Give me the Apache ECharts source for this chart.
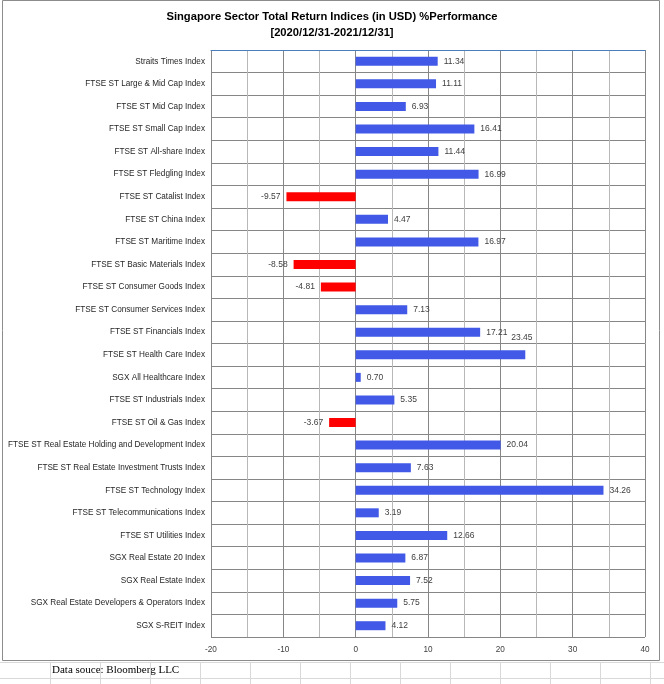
<!DOCTYPE html>
<html>
<head>
<meta charset="utf-8">
<script src="https://cdn.jsdelivr.net/npm/echarts@6/dist/echarts.min.js"></script>
<style>
html,body{margin:0;padding:0;background:#fff;}
#chart{width:664px;height:684px;}
</style>
</head>
<body>
<div id="chart"></div>
<script>
var categories = [
  "Straits Times Index",
  "FTSE ST Large & Mid Cap Index",
  "FTSE ST Mid Cap Index",
  "FTSE ST Small Cap Index",
  "FTSE ST All-share Index",
  "FTSE ST Fledgling Index",
  "FTSE ST Catalist Index",
  "FTSE ST China Index",
  "FTSE ST Maritime Index",
  "FTSE ST Basic Materials Index",
  "FTSE ST Consumer Goods Index",
  "FTSE ST Consumer Services Index",
  "FTSE ST Financials Index",
  "FTSE ST Health Care Index",
  "SGX All Healthcare Index",
  "FTSE ST Industrials Index",
  "FTSE ST Oil & Gas Index",
  "FTSE ST Real Estate Holding and Development Index",
  "FTSE ST Real Estate Investment Trusts Index",
  "FTSE ST Technology Index",
  "FTSE ST Telecommunications Index",
  "FTSE ST Utilities Index",
  "SGX Real Estate 20 Index",
  "SGX Real Estate Index",
  "SGX Real Estate Developers & Operators Index",
  "SGX S-REIT Index"
];
var performance = [
  11.34, 11.11, 6.93, 16.41, 11.44, 16.99, -9.57, 4.47, 16.97, -8.58,
  -4.81, 7.13, 17.21, 23.45, 0.70, 5.35, -3.67, 20.04, 7.63, 34.26,
  3.19, 12.66, 6.87, 7.52, 5.75, 4.12
];
var xTicks = { min: -20, max: 40, interval: 10 };

var BLUE = '#4159E6', RED = '#FF0000';
var LABEL_FONT = 'Liberation Sans';

var barData = performance.map(function (v, i) {
  var item = {
    value: v,
    itemStyle: { color: v < 0 ? RED : BLUE },
    label: { position: v < 0 ? 'left' : 'right' }
  };
  if (categories[i] === 'FTSE ST Health Care Index') {
    item.label.offset = [-20, -17];
  }
  return item;
});

var sheetLines = [];
sheetLines.push({ type: 'line', shape: { x1: 0, y1: 662.5, x2: 664, y2: 662.5 }, style: { stroke: '#d9d9d9', lineWidth: 1 }, z: 0 });
sheetLines.push({ type: 'line', shape: { x1: 0, y1: 678.5, x2: 664, y2: 678.5 }, style: { stroke: '#d9d9d9', lineWidth: 1 }, z: 0 });
for (var gx = 50; gx <= 650; gx += 50) {
  sheetLines.push({ type: 'line', shape: { x1: gx + 0.5, y1: 662, x2: gx + 0.5, y2: 684 }, style: { stroke: '#d9d9d9', lineWidth: 1 }, z: 0 });
}

var chart = echarts.init(document.getElementById('chart'), null, { renderer: 'canvas' });
chart.setOption({
  backgroundColor: '#ffffff',
  animation: false,
  title: {
    text: 'Singapore Sector Total Return Indices (in USD) %Performance\n[2020/12/31-2021/12/31]',
    left: 'center',
    top: 4,
    textStyle: { fontFamily: LABEL_FONT, fontSize: 11.2, fontWeight: 'bold', color: '#000', lineHeight: 16 }
  },
  grid: { left: 211, right: 19, top: 50, bottom: 47, containLabel: false, outerBoundsMode: 'none' },
  xAxis: [{
    type: 'value',
    min: xTicks.min, max: xTicks.max, interval: xTicks.interval,
    axisLine: { show: false },
    axisTick: { show: false },
    axisLabel: { color: '#404040', fontSize: 8.2, fontFamily: LABEL_FONT, margin: 9 },
    splitLine: { show: true, lineStyle: { color: '#868686', width: 1 } },
    minorTick: { show: false, splitNumber: 2 },
    minorSplitLine: { show: true, lineStyle: { color: '#b8b8b8', width: 1 } }
  }, {
    type: 'value',
    position: 'top',
    min: xTicks.min, max: xTicks.max, interval: xTicks.interval,
    axisLine: { show: true, lineStyle: { color: '#4a7ebb', width: 1 } },
    axisTick: { show: false },
    axisLabel: { show: false },
    splitLine: { show: false }
  }],
  yAxis: {
    type: 'category',
    inverse: true,
    data: categories,
    axisLine: { show: false },
    axisTick: { show: false },
    axisLabel: { color: '#262626', fontSize: 8.2, fontFamily: LABEL_FONT, margin: 6 },
    splitLine: { show: true, lineStyle: { color: '#868686', width: 1 } }
  },
  series: [{
    type: 'bar',
    xAxisIndex: 0,
    data: barData,
    barWidth: 9,
    label: {
      show: true,
      distance: 6,
      color: '#404040',
      fontSize: 8.5,
      fontFamily: LABEL_FONT,
      formatter: function (p) { return p.value.toFixed(2); }
    }
  }],
  graphic: [
    { type: 'rect', shape: { x: 2.5, y: 0.5, width: 657, height: 660 }, style: { fill: null, stroke: '#8c8c8c', lineWidth: 1 }, z: -1, silent: true },
    { type: 'text', left: 52, top: 665, style: { text: 'Data souce: Bloomberg LLC', fontFamily: 'Liberation Serif', fontSize: 11, fill: '#000' } }
  ].concat(sheetLines)
});
</script>
</body>
</html>
